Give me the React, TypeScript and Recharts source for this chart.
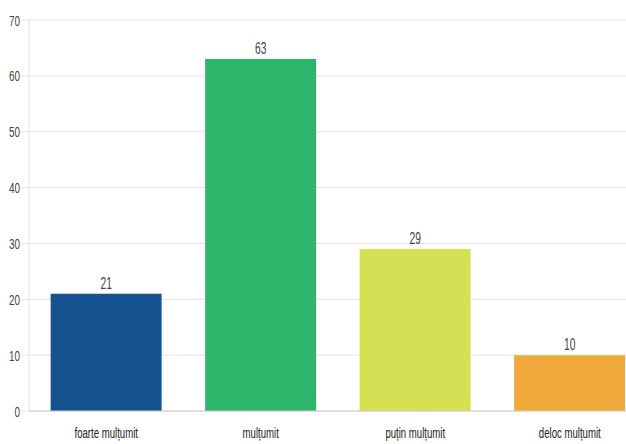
import React from "react";
import { BarChart, Bar, XAxis, YAxis, CartesianGrid, Cell, LabelList } from "recharts";

const categories = ["foarte mulțumit", "mulțumit", "puțin mulțumit", "deloc mulțumit"];
const values = [21, 63, 29, 10];
const colors = ["#15528f", "#2db56b", "#d6e055", "#f0aa3c"];
const yTicks = [0, 10, 20, 30, 40, 50, 60, 70];

const data = categories.map((c, i) => ({ name: c, value: values[i] }));

const FONT = "'Liberation Sans', Arial, sans-serif";
const SQUEEZE = 0.64;

const YTick = (props: any) => {
  const { x, y, payload } = props;
  return (
    <text
      transform={`translate(${x},${y}) scale(${SQUEEZE},1)`}
      x={0}
      y={0}
      dy="0.36em"
      textAnchor="end"
      fill="#444"
      fontSize={15.5}
      fontFamily={FONT}
    >
      {payload.value}
    </text>
  );
};

const XTick = (props: any) => {
  const { x, y, payload } = props;
  return (
    <text
      transform={`translate(${x},${y + 27}) scale(0.62,1)`}
      x={0}
      y={0}
      textAnchor="middle"
      fill="#222"
      fontSize={15.5}
      fontFamily={FONT}
    >
      {payload.value}
    </text>
  );
};

const ValueLabel = (props: any) => {
  const { x, y, width, value } = props;
  return (
    <text
      transform={`translate(${Number(x) + Number(width) / 2},${Number(y) - 5}) scale(${SQUEEZE},1)`}
      x={0}
      y={0}
      textAnchor="middle"
      fill="#444"
      fontSize={16}
      fontFamily={FONT}
    >
      {value}
    </text>
  );
};

export default function App() {
  return (
    <div style={{ position: "absolute", left: 0, top: 0, width: 626, height: 444, overflow: "hidden", background: "#fff" }}>
      <BarChart
        width={647}
        height={444}
        data={data}
        margin={{ top: 20, right: 0, bottom: 0, left: 0 }}
        barCategoryGap="14%"
      >
        <CartesianGrid vertical={false} stroke="#e4e4e4" />
        <XAxis
          dataKey="name"
          height={33}
          axisLine={{ stroke: "#cccccc" }}
          tickLine={false}
          tickSize={0}
          tickMargin={0}
          tick={<XTick />}
          interval={0}
        />
        <YAxis
          width={29}
          domain={[0, 70]}
          ticks={yTicks}
          axisLine={{ stroke: "#e4e4e4" }}
          tickLine={{ stroke: "#e4e4e4" }}
          tickSize={8}
          tickMargin={1}
          tick={<YTick />}
        />
        <Bar dataKey="value" isAnimationActive={false}>
          {data.map((d, i) => (
            <Cell key={d.name} fill={colors[i]} />
          ))}
          <LabelList dataKey="value" content={<ValueLabel />} />
        </Bar>
      </BarChart>
    </div>
  );
}
